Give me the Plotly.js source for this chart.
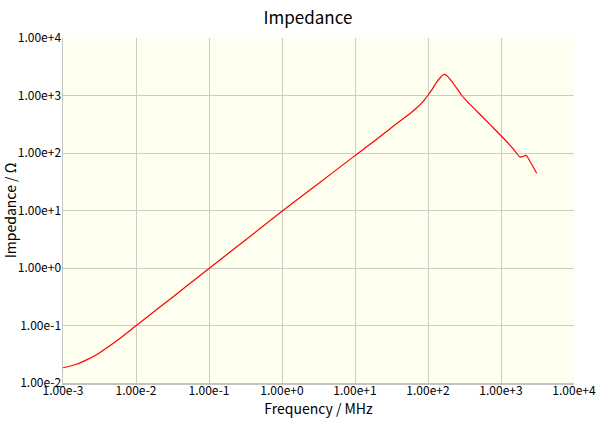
<!DOCTYPE html>
<html>
<head>
<meta charset="utf-8">
<script src="https://cdn.plot.ly/plotly-3.0.1.min.js"></script>
<style>html,body{margin:0;padding:0;background:#fff;}#chart{width:598px;height:421px;}</style>
</head>
<body>
<div id="chart"></div>
<script>
// Frequency in MHz
const frequency = [0.001, 0.0015, 0.002, 0.003, 0.005, 0.007, 0.01, 0.02, 0.05, 0.1, 0.2, 0.5, 1, 2, 5, 10, 20, 34.5, 58.5, 70, 80, 90, 100, 115, 130, 150, 164, 180, 199, 220, 240, 265, 287, 330, 370, 486, 700, 1000, 1400, 1600, 1820, 2000, 2200, 2500, 3080];
// Impedance in ohm
const impedance = [0.0184, 0.021, 0.0245, 0.032, 0.05, 0.069, 0.099, 0.197, 0.49, 0.98, 1.95, 4.85, 9.7, 19, 46, 90, 175, 302, 500, 610, 715, 850, 1010, 1300, 1680, 2100, 2320, 2220, 1950, 1650, 1420, 1190, 1020, 830, 715, 507, 317, 200, 127, 103, 85, 87, 91, 71, 44.5];
const xTickVals = [1e-3, 1e-2, 1e-1, 1e0, 1e1, 1e2, 1e3, 1e4];
const xTickText = ["1.00e-3", "1.00e-2", "1.00e-1", "1.00e+0", "1.00e+1", "1.00e+2", "1.00e+3", "1.00e+4"];
const yTickVals = [1e-2, 1e-1, 1e0, 1e1, 1e2, 1e3, 1e4];
const yTickText = ["1.00e-2", "1.00e-1", "1.00e+0", "1.00e+1", "1.00e+2", "1.00e+3", "1.00e+4"];

const FONT = '"Noto Sans CJK JP", "Noto Sans", sans-serif';
const trace = {
  x: frequency, y: impedance, type: 'scatter', mode: 'lines',
  line: {color: '#ff0000', width: 1.2, shape: 'spline', smoothing: 0.8},
  hoverinfo: 'none', showlegend: false
};
const axisCommon = {
  type: 'log', showgrid: true, gridcolor: '#cdcdc5', gridwidth: 1,
  showline: true, linecolor: '#c4c4c4', linewidth: 1.5, mirror: false,
  zeroline: false, ticks: '', tickmode: 'array',
  tickfont: {family: FONT, size: 12, color: '#000'}
};
const layout = {
  width: 598, height: 421,
  margin: {l: 63, r: 24, t: 38, b: 38, pad: 0},
  paper_bgcolor: '#ffffff', plot_bgcolor: '#fffff0',
  font: {family: FONT, color: '#000'},
  title: {text: 'Impedance', font: {family: FONT, size: 17, color: '#000'}, x: 0.515, xanchor: 'center', y: 0.972, yanchor: 'top'},
  xaxis: Object.assign({}, axisCommon, {
    range: [-3, 4], tickvals: xTickVals, ticktext: xTickText, ticklabelstandoff: -4,
    title: {text: 'Frequency / MHz', font: {family: FONT, size: 14, color: '#000'}, standoff: 4}
  }),
  yaxis: Object.assign({}, axisCommon, {
    range: [-2, 4], tickvals: yTickVals, ticktext: yTickText, ticklabelstandoff: -2,
    title: {text: 'Impedance / Ω', font: {family: FONT, size: 14, color: '#000'}, standoff: 6}
  })
};
Plotly.newPlot('chart', [trace], layout, {displayModeBar: false, staticPlot: true});
</script>
</body>
</html>
